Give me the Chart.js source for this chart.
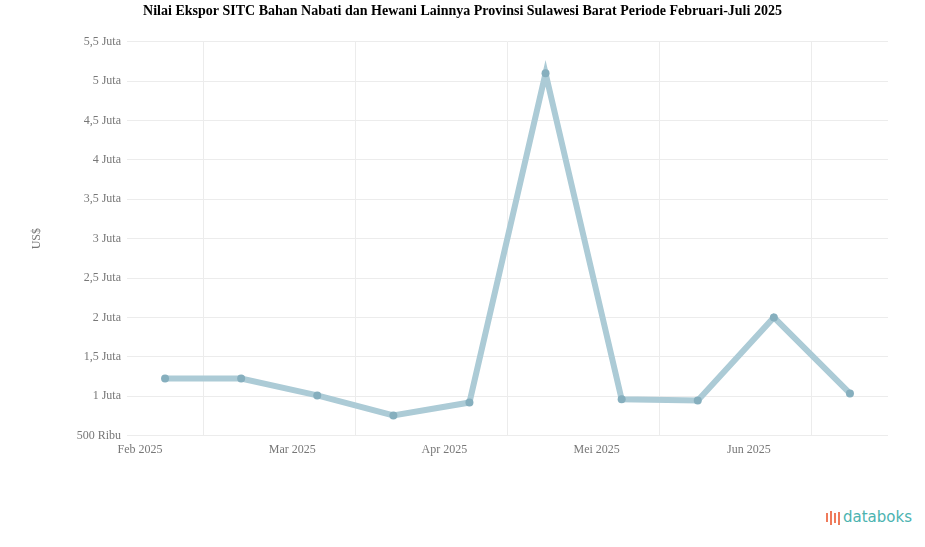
<!DOCTYPE html>
<html>
<head>
<meta charset="utf-8">
<script src="https://cdn.jsdelivr.net/npm/chart.js@4.4.0/dist/chart.umd.min.js"></script>
<style>
  body { margin: 0; background: #fff; width: 925px; height: 547px; position: relative; overflow: hidden; }
  #wrap { position: absolute; left: 0; top: 0; width: 925px; height: 464px; }
  #logo { position: absolute; left: 826px; top: 508px; font-family: "DejaVu Sans", sans-serif; font-size: 15px; color: #4bb3b0; display: flex; align-items: center; }
  #logo .ic { display: inline-flex; align-items: flex-end; gap: 2px; margin-right: 3px; height: 16px; }
  #logo .ic span { width: 2px; background: #ef7b5b; display: inline-block; }
</style>
</head>
<body>
<div id="wrap"><canvas id="myChart1"></canvas></div>
<div id="logo"><div class="ic"><span style="height:9px;margin-bottom:3px"></span><span style="height:14px"></span><span style="height:10px;margin-bottom:2px"></span><span style="height:13px"></span></div>databoks</div>
<script>
// data (US$)
const labels = ['Feb 2025', '', 'Mar 2025', '', 'Apr 2025', '', 'Mei 2025', '', 'Jun 2025', '']
const values = [1225000, 1225000, 1010000, 755000, 920000, 5100000, 960000, 945000, 2000000, 1035000]
const tickLabels = ['500 Ribu', '1 Juta', '1,5 Juta', '2 Juta', '2,5 Juta', '3 Juta', '3,5 Juta', '4 Juta', '4,5 Juta', '5 Juta', '5,5 Juta']

const ctx = document.getElementById('myChart1');

new Chart(ctx, {
  type: 'line',
  data: {
    labels: [...labels],
    datasets: [{
      label: 'Nilai Ekspor',
      data: [...values],
      borderColor: '#accbd6',
      backgroundColor: '#86afbe',
      borderWidth: 6,
      pointRadius: 4,
      pointBorderWidth: 0,
      tension: 0
    }]
  },
  options: {
    responsive: true,
    maintainAspectRatio: false,
    animation: false,
    layout: { padding: { left: 37, right: 37, top: 0, bottom: 0 } },
    plugins: {
      legend: { display: false },
      title: {
        display: true,
        text: 'Nilai Ekspor SITC Bahan Nabati dan Hewani Lainnya Provinsi Sulawesi Barat Periode Februari-Juli 2025',
        color: '#000',
        font: { family: 'Liberation Serif', size: 14, weight: 'bold' },
        padding: { top: 3, bottom: 22 }
      }
    },
    scales: {
      x: {
        offset: true,
        grid: {
          offset: true,
          drawTicks: false,
          color: (c) => (c.index % 2 === 1 ? '#ececec' : 'rgba(0,0,0,0)')
        },
        border: { display: false },
        ticks: {
          autoSkip: false,
          maxRotation: 0,
          labelOffset: -25,
          padding: 7,
          color: '#777',
          font: { family: 'Liberation Serif', size: 12 }
        }
      },
      y: {
        min: 500000,
        max: 5500000,
        afterFit: (scale) => { scale.width = 90 },
        title: {
          display: true,
          text: 'US$',
          color: '#777',
          font: { family: 'Liberation Serif', size: 12 },
          padding: { top: -7, bottom: 0 }
        },
        grid: { color: '#ececec', drawTicks: false },
        border: { display: false },
        ticks: {
          stepSize: 500000,
          padding: 6,
          color: '#777',
          font: { family: 'Liberation Serif', size: 12 },
          callback: (v, i) => tickLabels[i]
        }
      }
    }
  }
});
</script>
</body>
</html>
